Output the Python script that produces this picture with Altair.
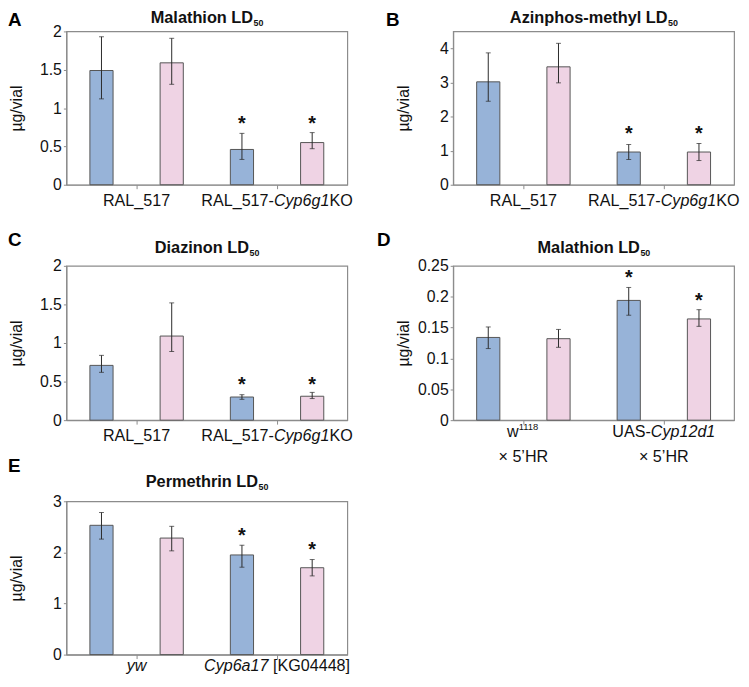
import altair as alt
import pandas as pd

FONT = "Liberation Sans"
BLUE = "#97b3d8"
PINK = "#efd3e4"
FRAME = "#8c8c8c"
INK = "#111111"

series = ["blue", "pink"]

# ---------------- data ----------------
ral_groups = ["RAL_517", "RAL_517-Cyp6g1KO"]
d_groups = ["w1118 x 5'HR", "UAS-Cyp12d1 x 5'HR"]
e_groups = ["yw", "Cyp6a17 [KG04448]"]

a_values = [1.49, 1.59, 0.46, 0.55]
a_low = [1.12, 1.31, 0.33, 0.47]
a_high = [1.93, 1.91, 0.67, 0.68]
a_star = [None, None, 0.84, 0.84]

b_values = [3.02, 3.46, 0.96, 0.96]
b_low = [2.45, 2.99, 0.74, 0.71]
b_high = [3.87, 4.15, 1.18, 1.21]
b_star = [None, None, 1.59, 1.59]

c_values = [0.71, 1.09, 0.30, 0.31]
c_low = [0.62, 0.89, 0.27, 0.28]
c_high = [0.84, 1.52, 0.33, 0.36]
c_star = [None, None, 0.51, 0.51]

d_values = [0.134, 0.132, 0.194, 0.164]
d_low = [0.116, 0.118, 0.170, 0.152]
d_high = [0.151, 0.147, 0.215, 0.179]
d_star = [None, None, 0.236, 0.200]

e_values = [2.53, 2.28, 1.95, 1.70]
e_low = [2.26, 2.03, 1.71, 1.54]
e_high = [2.78, 2.51, 2.14, 1.86]
e_star = [None, None, 2.39, 2.12]

a_ticks = [0, 0.5, 1, 1.5, 2]
b_ticks = [0, 1, 2, 3, 4]
c_ticks = [0, 0.5, 1, 1.5, 2]
d_ticks = [0, 0.05, 0.1, 0.15, 0.2, 0.25]
e_ticks = [0, 1, 2, 3]

# ---------------- text metrics (Arial / Liberation Sans) ----------------
REG = {' ': 278, '-': 333, '_': 556, 'A': 667, 'C': 722, 'G': 778, 'H': 722,
       'K': 667, 'L': 556, 'O': 778, 'R': 722, 'S': 667, 'U': 722, 'a': 556,
       'd': 556, 'g': 556, 'p': 556, 'w': 722, 'y': 500, '[': 278, ']': 278,
       '×': 584, '’': 222}
BOLD = {' ': 278, '-': 333, 'A': 722, 'D': 722, 'L': 611, 'M': 833, 'P': 667,
        'a': 556, 'e': 556, 'h': 611, 'i': 278, 'l': 278, 'm': 889, 'n': 611,
        'o': 611, 'p': 611, 'r': 389, 's': 556, 't': 333, 'y': 556, 'z': 500}


def tw(s, size, bold=False):
    table = BOLD if bold else REG
    return sum(table.get(ch, 556) for ch in s) * size / 1000.0


W = 284
LBL = 16.3
TS = 16.5
SS = 9


def make_panel(letter, title, groups, values, low, high, star, ymax, ticks,
               height, label_specs, letter_pos, title_base):
    df = pd.DataFrame({
        "group": [groups[0], groups[0], groups[1], groups[1]],
        "series": series * 2,
        "value": values,
        "lo": low,
        "hi": high,
        "star": star,
    })
    xenc = alt.X("group:N", sort=groups,
                 scale=alt.Scale(domain=groups, paddingInner=0, paddingOuter=0),
                 axis=alt.Axis(labels=False, title=None, ticks=True, tickSize=4,
                               tickColor=FRAME, domainColor=FRAME, domainWidth=1.2,
                               bandPosition=0.5, grid=False))
    xoff = alt.XOffset("series:N", sort=series,
                       scale=alt.Scale(domain=series, paddingInner=0.67, paddingOuter=0.335))
    yscale = alt.Scale(domain=[0, ymax], nice=False, zero=True)
    yaxis = alt.Axis(values=ticks, format="~g", title="µg/vial", grid=False,
                     tickSize=3, tickColor=FRAME, domainColor=FRAME, domainWidth=1.2,
                     labelPadding=2, minExtent=36, maxExtent=36, titlePadding=6,
                     labelFont=FONT, labelFontSize=16, labelColor=INK,
                     titleFont=FONT, titleFontSize=16, titleFontWeight="normal",
                     titleColor=INK)
    base = alt.Chart(df)
    bars = base.mark_bar(stroke="#555555", strokeWidth=1).encode(
        x=xenc, xOffset=xoff,
        y=alt.Y("value:Q", scale=yscale, axis=yaxis),
        color=alt.Color("series:N", scale=alt.Scale(domain=series, range=[BLUE, PINK]),
                        legend=None),
    )
    rule = base.mark_rule(color="#2b2b2b", strokeWidth=1).encode(
        x=xenc, xOffset=xoff,
        y=alt.Y("lo:Q", scale=yscale, axis=yaxis), y2="hi:Q")
    cap_hi = base.mark_tick(color="#2b2b2b", thickness=1, size=5).encode(
        x=xenc, xOffset=xoff, y=alt.Y("hi:Q", scale=yscale, axis=yaxis))
    cap_lo = base.mark_tick(color="#2b2b2b", thickness=1, size=5).encode(
        x=xenc, xOffset=xoff, y=alt.Y("lo:Q", scale=yscale, axis=yaxis))
    stars = base.transform_filter("isValid(datum.star)").mark_text(
        text="*", font=FONT, fontSize=20, fontWeight="bold", color=INK,
        baseline="alphabetic", dy=10).encode(
        x=xenc, xOffset=xoff, y=alt.Y("star:Q", scale=yscale, axis=yaxis))

    layers = [bars, rule, cap_hi, cap_lo, stars]

    # category labels built from styled segments (gap = leading blank width)
    for gi, lines in enumerate(label_specs):
        for base_y, segs in lines:
            total = sum(tw(t, sz) for t, st, sz, r in segs)
            x0 = -total / 2.0
            for t, st, sz, r in segs:
                lead = len(t) - len(t.lstrip(" "))
                shown = t.strip(" ")
                x0 += tw(" " * lead, sz)
                layers.append(
                    alt.Chart(pd.DataFrame({"group": [groups[gi]], "t": [shown]}))
                    .mark_text(align="left", baseline="alphabetic", dx=x0, fontSize=sz,
                               fontStyle=st, font=FONT, color=INK)
                    .encode(x=xenc, y=alt.value(height + base_y - r), text="t:N"))
                x0 += tw(shown, sz)

    # title with subscript
    wm = tw(title, TS, bold=True)
    ws = tw("50", SS, bold=True)
    junction = W / 2.0 - (wm + ws) / 2.0 + wm
    layers.append(
        alt.Chart(pd.DataFrame({"t": [title]}))
        .mark_text(align="right", baseline="alphabetic", font=FONT, fontSize=TS,
                   fontWeight="bold", color=INK)
        .encode(x=alt.value(junction), y=alt.value(title_base), text="t:N"))
    layers.append(
        alt.Chart(pd.DataFrame({"t": ["50"]}))
        .mark_text(align="left", baseline="alphabetic", font=FONT, fontSize=SS,
                   fontWeight="bold", color=INK)
        .encode(x=alt.value(junction + 0.5), y=alt.value(title_base + 3), text="t:N"))
    # panel letter
    layers.append(
        alt.Chart(pd.DataFrame({"t": [letter]}))
        .mark_text(align="left", baseline="top", font=FONT, fontSize=19,
                   fontWeight="bold", color="#000000")
        .encode(x=alt.value(letter_pos[0]), y=alt.value(letter_pos[1]), text="t:N"))

    return alt.layer(*layers).properties(width=W, height=height)


ral_labels = [
    [(21, [("RAL_517", "normal", LBL, 0)])],
    [(21, [("RAL_517-", "normal", LBL, 0), ("Cyp6g1", "italic", LBL, 0),
           ("KO", "normal", LBL, 0)])],
]
d_labels = [
    [(17, [("w", "normal", LBL, 0), ("1118", "normal", 9.5, 7)]),
     (42, [("× 5’HR", "normal", LBL, 0)])],
    [(17, [("UAS-", "normal", LBL, 0), ("Cyp12d1", "italic", LBL, 0)]),
     (42, [("× 5’HR", "normal", LBL, 0)])],
]
e_labels = [
    [(17, [("yw", "italic", LBL, 0)])],
    [(17, [("Cyp6a17", "italic", LBL, 0), (" [KG04448]", "normal", LBL, 0)])],
]

pA = make_panel("A", "Malathion LD", ral_groups, a_values, a_low, a_high, a_star,
                2, a_ticks, 155, ral_labels, (-59, -20), -8)
pB = make_panel("B", "Azinphos-methyl LD", ral_groups, b_values, b_low, b_high, b_star,
                4.5, b_ticks, 155, ral_labels, (-68, -20), -8)
pC = make_panel("C", "Diazinon LD", ral_groups, c_values, c_low, c_high, c_star,
                2, c_ticks, 156, ral_labels, (-59, -35), -13)
pD = make_panel("D", "Malathion LD", d_groups, d_values, d_low, d_high, d_star,
                0.25, d_ticks, 156, d_labels, (-77, -35), -13)
pE = make_panel("E", "Permethrin LD", e_groups, e_values, e_low, e_high, e_star,
                3, e_ticks, 155, e_labels, (-59, -45), -14)

chart = (
    alt.concat(pA, pB, pC, pD, pE, columns=2,
               spacing={"row": 82, "column": 107},
               bounds="flush")
    .properties(padding={"left": 59, "top": 20, "right": 682, "bottom": 651},
                autosize=alt.AutoSizeParams(type="none"))
    .configure_view(stroke=FRAME, strokeWidth=1.2)
)

chart.save("out.html", embed_options={"renderer": "svg", "actions": False})
